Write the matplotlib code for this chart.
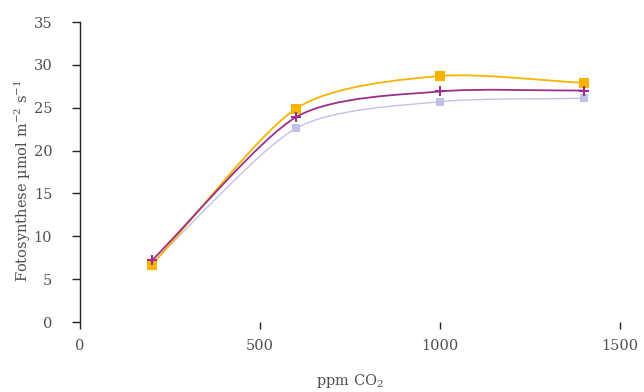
import matplotlib
matplotlib.use("Agg")
import matplotlib.pyplot as plt
import numpy as np
from matplotlib.path import Path
from matplotlib.patches import PathPatch

co2 = [200, 600, 1000, 1400]
yellow = [6.7, 24.9, 28.7, 27.9]
purple = [7.2, 23.9, 26.9, 27.0]
lavender = [6.9, 22.6, 25.7, 26.1]

x_ticks = [0, 500, 1000, 1500]
y_ticks = [0, 5, 10, 15, 20, 25, 30, 35]

plt.rcParams["font.family"] = ["DejaVu Serif"]
plt.rcParams["mathtext.fontset"] = "dejavuserif"

TXT = "#505050"


def smooth_path(xs, ys, k=8):
    # smoothed line: cubic Bezier segments, straight tangents at the ends
    p = np.column_stack([xs, ys]).astype(float)
    n = len(p)
    verts, codes = [p[0]], [Path.MOVETO]
    for i in range(n - 1):
        p1, p2 = p[i], p[i + 1]
        p0 = p[i - 1] if i > 0 else 2 * p1 - p2
        p3 = p[i + 2] if i + 2 < n else 2 * p2 - p1
        c1 = p1 + (p2 - p0) / k
        c2 = p2 - (p3 - p1) / k
        verts += [c1, c2, p2]
        codes += [Path.CURVE4] * 3
    return Path(verts, codes)


fig = plt.figure(figsize=(6.44, 3.92), dpi=100)
ax = fig.add_axes([80 / 644, 70 / 392, 540 / 644, 300 / 392])

series = [
    (lavender, "#C2C2E8", "s", 4.5, 1.0),
    (yellow, "#F4B400", "s", 6, 1.3),
    (purple, "#9C2F86", "+", 7, 1.3),
]
for ys, col, mk, ms, lw in series:
    ax.add_patch(PathPatch(smooth_path(co2, ys), facecolor="none", edgecolor=col, lw=lw))
    ax.plot(co2, ys, ls="none", marker=mk, ms=ms, color=col, mew=1.5)

ax.set_xlim(0, 1500)
ax.set_ylim(0, 35)
ax.set_xticks(x_ticks)
ax.set_yticks(y_ticks)
for s in ["top", "right", "bottom"]:
    ax.spines[s].set_visible(False)
ax.spines["left"].set_color("#222222")
ax.spines["left"].set_linewidth(1.0)
ax.tick_params(axis="x", direction="out", length=5, width=1, colors="#222222",
               labelcolor=TXT, labelsize=10.5, pad=7)
ax.tick_params(axis="y", direction="out", length=6, width=1, colors="#222222",
               labelcolor=TXT, labelsize=10.5, pad=14)

ax.set_xlabel("ppm CO$_2$", fontsize=10.5, color=TXT, labelpad=14)
ax.set_ylabel("Fotosynthese µmol m$^{-2}$ s$^{-1}$", fontsize=10.5, color=TXT)
ax.yaxis.set_label_coords(-0.087, 0.47)

fig.savefig("out.png", dpi=100)
